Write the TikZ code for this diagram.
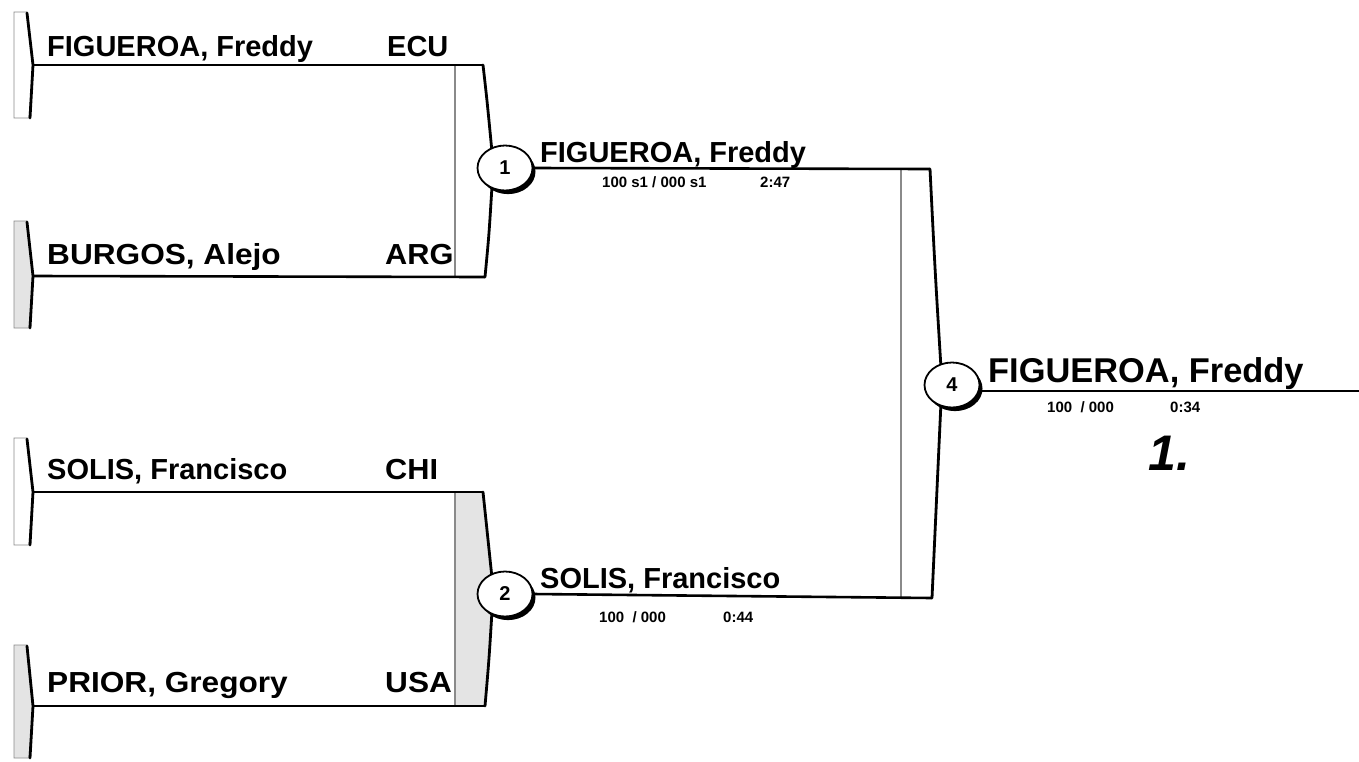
\documentclass[tikz,border=0pt]{standalone}
\usepackage{fontspec}
\setmainfont{Liberation Sans}
\usetikzlibrary{shapes.geometric,shadows}
\definecolor{lightfill}{HTML}{E4E4E4}
\definecolor{thingray}{HTML}{8A8A8A}
\tikzset{
  player/.style={font=\fontsize{29}{30}\selectfont\bfseries, inner sep=0pt, anchor=base west},
  winner/.style={font=\fontsize{34.4}{36}\selectfont\bfseries, inner sep=0pt, anchor=base west},
  score/.style={font=\fontsize{15}{16}\selectfont\bfseries, inner sep=0pt, anchor=base west},
  pline/.style={line width=2.6pt, black},
  edgeline/.style={line width=2.8pt, black, line join=round, line cap=round},
  thinline/.style={line width=1.1pt, thingray},
  matchno/.style={ellipse, draw=black, line width=1.8pt, fill=white, minimum width=55pt, minimum height=45pt, inner sep=0pt,
     font=\fontsize{20}{22}\selectfont\bfseries,
     drop shadow={opacity=1, fill=black, shadow xshift=3pt, shadow yshift=-3.6pt}},
}
\newcommand\drawtab[4]{%
  \filldraw[fill=#4, draw=thingray, line width=0.9pt] (14,#1) -- (27,#1) -- (33,#2) -- (29,#3) -- (14,#3) -- cycle;
  \draw[edgeline] (27,#1+1) -- (33,#2) -- (30,#3);
}
\begin{document}
\begin{tikzpicture}[x=1pt,y=-1pt]
\useasboundingbox (0,0) rectangle (1359,761);
% ---- left tabs
\drawtab{12}{65}{118}{white}
\drawtab{221}{276}{328}{lightfill}
\drawtab{438}{492}{545}{white}
\drawtab{645}{706}{758}{lightfill}
% ---- coordinates
\coordinate (t1) at (33,65);
\coordinate (t2) at (33,276);
\coordinate (t3) at (33,492);
\coordinate (t4) at (33,706);
\coordinate (b1a) at (483,65);
\coordinate (b1b) at (485,277);
\coordinate (b2a) at (483,492);
\coordinate (b2b) at (485,706);
\coordinate (b4a) at (930,169);
\coordinate (b4b) at (932,598);
\coordinate (fin) at (1359,391);
% ---- brackets fills
\fill[white] (455,65) -- (b1a) -- (492,150) -- (492,188) -- (b1b) -- (455,277) -- cycle;
\fill[lightfill] (455,492) -- (b2a) -- (492,575) -- (492,613) -- (b2b) -- (455,706) -- cycle;
\fill[white] (901,169) -- (b4a) -- (941,365) -- (941,405) -- (b4b) -- (901,598) -- cycle;
\draw[thinline] (455,65) -- (455,277);
\draw[thinline] (455,492) -- (455,706);
\draw[thinline] (901,169) -- (901,598);
% ---- bracket edges
\draw[edgeline] (b1a) .. controls (487,100) .. (492,152);
\draw[edgeline] (492,186) .. controls (489,235) .. (b1b);
\draw[edgeline] (b2a) .. controls (487,530) .. (492,578);
\draw[edgeline] (492,611) .. controls (489,660) .. (b2b);
\draw[edgeline] (b4a) .. controls (935,270) .. (941,368);
\draw[edgeline] (941,402) .. controls (937,500) .. (b4b);
% ---- match circles
\node[matchno] (m1) at (505,168) {1};
\node[matchno] (m2) at (505,594) {2};
\node[matchno] (m4) at (952,385) {4};
% ---- player lines
\draw[pline] (t1) -- (b1a);
\draw[pline] (t2) -- (b1b);
\draw[pline] (t3) -- (b2a);
\draw[pline] (t4) -- (b2b);
\draw[pline] (m1.east) -- (b4a);
\draw[pline] (m2.east) -- (b4b);
\draw[pline] (m4.east |- fin) -- (fin);
% ---- names
\node[player] (p1) at (47,56) {FIGUEROA, Freddy};
\node[player] (c1) at (387,56) {ECU};
\node[player] (p2) at (47,264) {\scalebox{1.09}[1]{BURGOS, Alejo}};
\node[player] (c2) at (385,264) {\scalebox{1.06}[1]{ARG}};
\node[player] (p3) at (47,479) {SOLIS, Francisco};
\node[player] (c3) at (385,479) {\scalebox{1.06}[1]{CHI}};
\node[player] (p4) at (47,692) {\scalebox{1.09}[1]{PRIOR, Gregory}};
\node[player] (c4) at (385,692) {\scalebox{1.09}[1]{USA}};
% ---- match results
\node[player] (w1) at (540,162) {FIGUEROA, Freddy};
\node[score] (s1) at (602,187) {100 s1 / 000 s1};
\node[score] (d1) at (760,187) {2:47};
\node[player] (w2) at (540,588) {SOLIS, Francisco};
\node[score] (s2) at (599,622) {100\ \ / 000};
\node[score] (d2) at (723,622) {0:44};
\node[winner] (w4) at (988,382) {FIGUEROA, Freddy};
\node[score] (s4) at (1047,412) {100\ \ / 000};
\node[score] (d4) at (1170,412) {0:34};
\node[inner sep=0pt, anchor=base west, font=\fontsize{50}{52}\selectfont\bfseries\itshape] (rank) at (1148,470) {1.};
\end{tikzpicture}
\end{document}
